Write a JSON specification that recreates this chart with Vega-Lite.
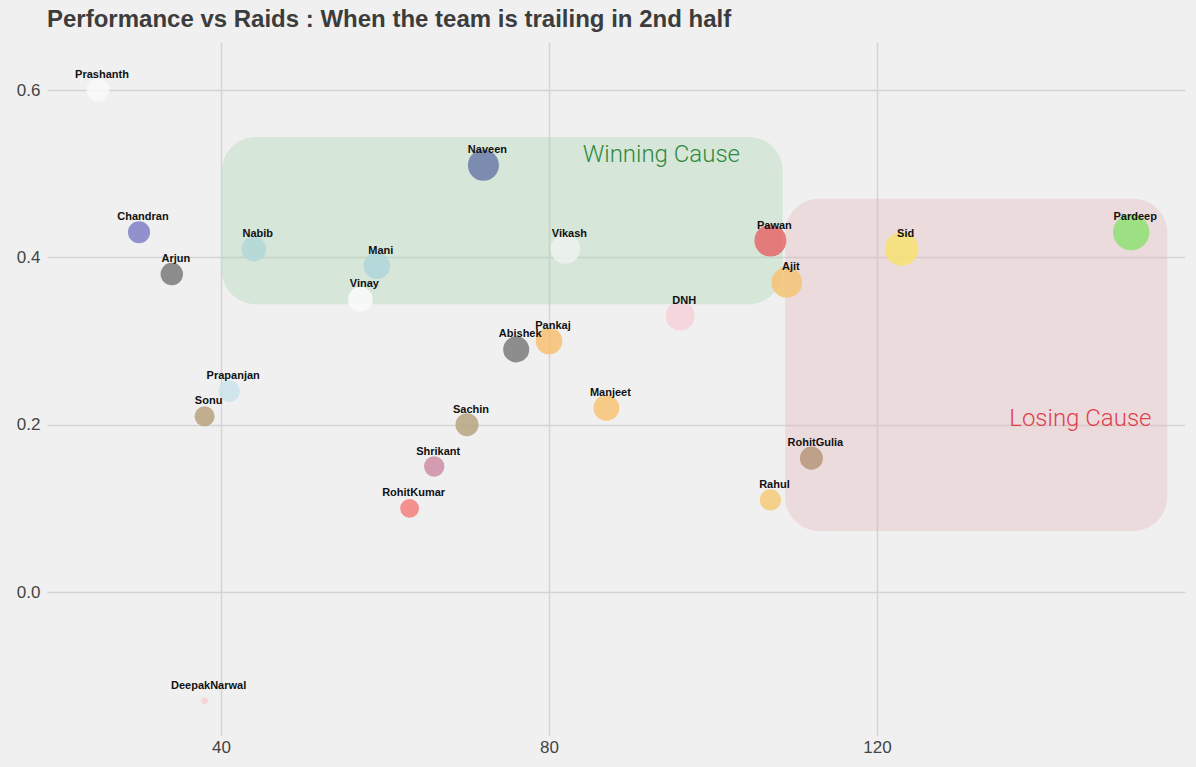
{
  "$schema": "https://vega.github.io/schema/vega-lite/v6.json",
  "width": 1138,
  "height": 693,
  "autosize": {"type": "none"},
  "padding": {"left": 47, "top": 42, "right": 11, "bottom": 32},
  "background": "#f0f0f0",
  "title": {
    "text": "Performance vs Raids : When the team is trailing in 2nd half",
    "anchor": "start",
    "frame": "group",
    "font": "Liberation Sans",
    "fontSize": 24,
    "fontWeight": "bold",
    "color": "#3c3c3c",
    "offset": 10
  },
  "config": {
    "view": {"stroke": null},
    "axis": {
      "domain": false,
      "ticks": false,
      "gridColor": "#d4d4d4",
      "gridWidth": 1.5,
      "labelFont": "Liberation Sans",
      "labelFontSize": 17,
      "labelColor": "#444444",
      "title": null
    }
  },
  "resolve": {"scale": {"fill": "independent", "color": "independent"}},
  "datasets": {
    "players": [
      {"player": "Prashanth", "raids": 25, "perf": 0.60, "score": 169},
      {"player": "Chandran", "raids": 30, "perf": 0.43, "score": 156},
      {"player": "Arjun", "raids": 34, "perf": 0.38, "score": 161},
      {"player": "Nabib", "raids": 44, "perf": 0.41, "score": 196},
      {"player": "Mani", "raids": 59, "perf": 0.39, "score": 225},
      {"player": "Vinay", "raids": 57, "perf": 0.35, "score": 196},
      {"player": "Naveen", "raids": 72, "perf": 0.51, "score": 306},
      {"player": "Vikash", "raids": 82, "perf": 0.41, "score": 279},
      {"player": "Pawan", "raids": 107, "perf": 0.42, "score": 324},
      {"player": "Ajit", "raids": 109, "perf": 0.37, "score": 299},
      {"player": "Sid", "raids": 123, "perf": 0.41, "score": 361},
      {"player": "Pardeep", "raids": 151, "perf": 0.43, "score": 420},
      {"player": "DNH", "raids": 96, "perf": 0.33, "score": 266},
      {"player": "Pankaj", "raids": 80, "perf": 0.30, "score": 225},
      {"player": "Abishek", "raids": 76, "perf": 0.29, "score": 216},
      {"player": "Manjeet", "raids": 87, "perf": 0.22, "score": 210},
      {"player": "Sachin", "raids": 70, "perf": 0.20, "score": 169},
      {"player": "Shrikant", "raids": 66, "perf": 0.15, "score": 132},
      {"player": "RohitKumar", "raids": 63, "perf": 0.10, "score": 114},
      {"player": "Prapanjan", "raids": 41, "perf": 0.24, "score": 144},
      {"player": "Sonu", "raids": 38, "perf": 0.21, "score": 128},
      {"player": "RohitGulia", "raids": 112, "perf": 0.16, "score": 169},
      {"player": "Rahul", "raids": 107, "perf": 0.11, "score": 144},
      {"player": "DeepakNarwal", "raids": 38, "perf": -0.13, "score": 14}
    ],
    "zones": [
      {"zone": "Winning Cause", "x1": 40.1, "x2": 108.5, "y1": 0.344, "y2": 0.544, "lx": 93.7, "ly": 0.522},
      {"zone": "Losing Cause", "x1": 108.8, "x2": 155.4, "y1": 0.073, "y2": 0.47, "lx": 144.8, "ly": 0.207}
    ]
  },
  "layer": [
    {
      "data": {"name": "zones"},
      "mark": {"type": "rect", "cornerRadius": 34, "opacity": 0.3},
      "encoding": {
        "x": {"field": "x1", "type": "quantitative", "scale": {"domain": [18.78, 157.56], "nice": false, "zero": false},
              "axis": {"values": [40, 80, 120], "labelPadding": 4}},
        "x2": {"field": "x2"},
        "y": {"field": "y1", "type": "quantitative", "scale": {"domain": [-0.1709, 0.6574], "nice": false, "zero": false},
              "axis": {"values": [0, 0.2, 0.4, 0.6], "format": ".1f", "labelPadding": 7}},
        "y2": {"field": "y2"},
        "fill": {"field": "zone", "type": "nominal", "scale": {"domain": ["Winning Cause", "Losing Cause"], "range": ["#9dd2a7", "#e6adb4"]}, "legend": null}
      }
    },
    {
      "data": {"name": "zones"},
      "mark": {"type": "text", "font": "Roboto", "fontWeight": 300, "fontSize": 24, "align": "center", "baseline": "middle"},
      "encoding": {
        "x": {"field": "lx", "type": "quantitative"},
        "y": {"field": "ly", "type": "quantitative"},
        "text": {"field": "zone"},
        "color": {"field": "zone", "type": "nominal", "scale": {"domain": ["Winning Cause", "Losing Cause"], "range": ["#2f8a3e", "#e0404e"]}, "legend": null}
      }
    },
    {
      "data": {"name": "players"},
      "mark": {"type": "circle", "opacity": 0.88},
      "encoding": {
        "x": {"field": "raids", "type": "quantitative"},
        "y": {"field": "perf", "type": "quantitative"},
        "size": {"field": "score", "type": "quantitative", "scale": {"domain": [0, 420], "range": [0, 1320], "zero": true}, "legend": null},
        "fill": {
          "field": "player", "type": "nominal", "legend": null,
          "scale": {
            "domain": ["Prashanth", "Chandran", "Arjun", "Nabib", "Mani", "Vinay", "Naveen", "Vikash", "Pawan", "Ajit", "Sid", "Pardeep", "DNH", "Pankaj", "Abishek", "Manjeet", "Sachin", "Shrikant", "RohitKumar", "Prapanjan", "Sonu", "RohitGulia", "Rahul", "DeepakNarwal"],
            "range": ["#f8f8f8", "#8383c8", "#7d7d7d", "#b3d8d8", "#b0d6d9", "#fafafa", "#6f80aa", "#edf2ed", "#e56c6c", "#f4c477", "#f6e174", "#92e076", "#f6d2da", "#f7c275", "#7e7e7e", "#f7c479", "#b8a684", "#cf8fa7", "#f38282", "#cce2ea", "#b8a47f", "#b8987d", "#f4cb7c", "#f6d0d6"]
          }
        }
      }
    },
    {
      "data": {"name": "players"},
      "mark": {"type": "text", "font": "Liberation Sans", "fontWeight": "bold", "fontSize": 11, "color": "#111111", "dy": -15, "dx": 4, "align": "center", "baseline": "middle"},
      "encoding": {
        "x": {"field": "raids", "type": "quantitative"},
        "y": {"field": "perf", "type": "quantitative"},
        "text": {"field": "player"}
      }
    }
  ]
}
